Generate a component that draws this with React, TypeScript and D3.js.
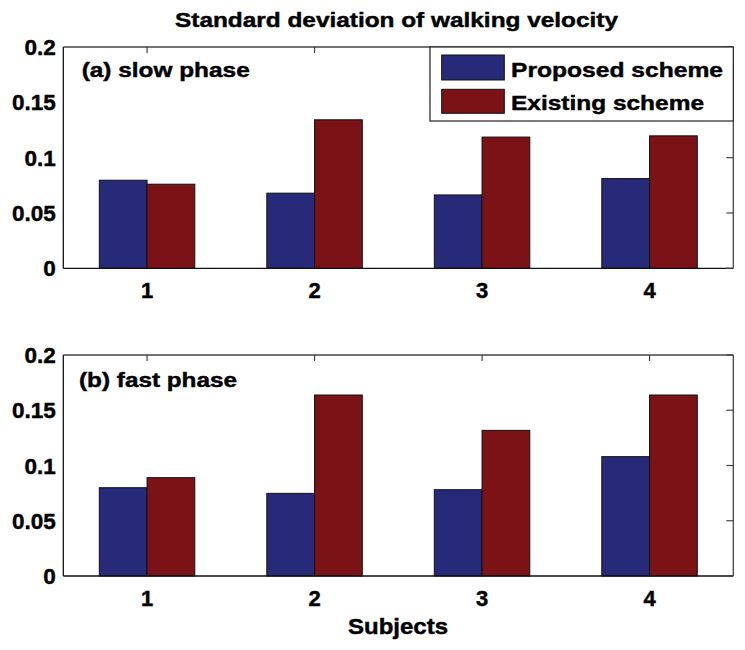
import React from "react";
import * as d3 from "d3";

const subjects = ["1", "2", "3", "4"];
const seriesNames = ["Proposed scheme", "Existing scheme"];
const slowProposed = [0.0796, 0.0679, 0.0663, 0.0811];
const slowExisting = [0.076, 0.1342, 0.1186, 0.1197];
const fastProposed = [0.0799, 0.0748, 0.0781, 0.108];
const fastExisting = [0.089, 0.1638, 0.1318, 0.1638];
const yTicks = [0, 0.05, 0.1, 0.15, 0.2];
const yTickLabels = ["0", "0.05", "0.1", "0.15", "0.2"];
const panelLabels = ["(a) slow phase", "(b) fast phase"];
const title = "Standard deviation of walking velocity";
const xLabel = "Subjects";
const colors = ["#272a78", "#7a1216"];

const FONT = "'Liberation Sans', Arial, Helvetica, sans-serif";
const TS = 0.45; // slight stroke to mimic heavy bold rendering
const left = 63.3;
const right = 733.3;
const panels = [
  { top: 47, bottom: 268.3, data: [slowProposed, slowExisting], labelY: 76.5 },
  { top: 355, bottom: 576, data: [fastProposed, fastExisting], labelY: 387 },
];
const panelLabelWidths = [168, 158];

function Panel({ idx }: { idx: number }) {
  const p = panels[idx];
  const x = d3.scaleLinear().domain([0.5, 4.5]).range([left, right]);
  const y = d3.scaleLinear().domain([0, 0.2]).range([p.bottom, p.top]);
  const barW = 0.285;
  return (
    <g>
      {p.data.map((vals, s) =>
        vals.map((v, i) => {
          const cx = i + 1;
          const x0 = s === 0 ? x(cx - barW) : x(cx);
          const x1 = s === 0 ? x(cx) : x(cx + barW);
          return (
            <rect
              key={`${s}-${i}`}
              x={x0}
              y={y(v)}
              width={x1 - x0}
              height={y(0) - y(v)}
              fill={colors[s]}
              stroke="#111"
              strokeWidth={1}
            />
          );
        })
      )}
      <line x1={left} x2={right} y1={p.top} y2={p.top} stroke="#444" strokeWidth={1.3} />
      <line x1={right} x2={right} y1={p.top} y2={p.bottom} stroke="#444" strokeWidth={1.3} />
      <line x1={left} x2={left} y1={p.top} y2={p.bottom} stroke="#111" strokeWidth={1.3} />
      <line x1={left} x2={right} y1={p.bottom} y2={p.bottom} stroke="#111" strokeWidth={1.3} />
      {subjects.map((s, i) => (
        <line key={s} x1={x(i + 1)} x2={x(i + 1)} y1={p.top} y2={p.top + 6} stroke="#444" strokeWidth={1.2} />
      ))}
      {yTicks.map((t) => (
        <line key={t} x1={right - 7} x2={right} y1={y(t)} y2={y(t)} stroke="#444" strokeWidth={1.2} />
      ))}
      {yTicks.map((t, i) => (
        <text
          key={t}
          x={left - 7.5}
          y={y(t) + 8}
          textAnchor="end"
          fontFamily={FONT}
          fontWeight="bold"
          fontSize={22.5}
          fill="#000"
          stroke="#000"
          strokeWidth={TS}
        >
          {yTickLabels[i]}
        </text>
      ))}
      {subjects.map((s, i) => (
        <text
          key={s}
          x={x(i + 1)}
          y={p.bottom + 30}
          textAnchor="middle"
          fontFamily={FONT}
          fontWeight="bold"
          fontSize={22}
          fill="#000"
          stroke="#000"
          strokeWidth={TS}
        >
          {s}
        </text>
      ))}
      <text
        x={idx === 0 ? 81.7 : 79}
        y={p.labelY}
        fontFamily={FONT}
        fontWeight="bold"
        fontSize={21}
        textLength={panelLabelWidths[idx]}
        lengthAdjust="spacingAndGlyphs"
        fill="#000"
        stroke="#000"
        strokeWidth={TS}
      >
        {panelLabels[idx]}
      </text>
    </g>
  );
}

function Legend() {
  const bx0 = 430;
  const by0 = 47;
  const bx1 = right;
  const by1 = 121;
  const swY = [55, 89.3];
  const swH = [25, 24];
  const textY = [76.7, 110];
  const textW = [212, 193];
  return (
    <g>
      <rect x={bx0} y={by0} width={bx1 - bx0} height={by1 - by0} fill="#fff" stroke="#222" strokeWidth={1.2} />
      {seriesNames.map((name, i) => (
        <g key={name}>
          <rect x={441.7} y={swY[i]} width={62.6} height={swH[i]} fill={colors[i]} stroke="#111" strokeWidth={1} />
          <text
            x={511}
            y={textY[i]}
            fontFamily={FONT}
            fontWeight="bold"
            fontSize={21}
            textLength={textW[i]}
            lengthAdjust="spacingAndGlyphs"
            fill="#000"
            stroke="#000"
            strokeWidth={TS}
          >
            {name}
          </text>
        </g>
      ))}
    </g>
  );
}

export default function App() {
  return (
    <svg
      width={745}
      height={650}
      viewBox="0 0 745 650"
      style={{ position: "absolute", left: 0, top: 0, background: "#fff" }}
    >
      <rect x={0} y={0} width={745} height={650} fill="#fff" />
      <text
        x={396.5}
        y={26.7}
        textAnchor="middle"
        fontFamily={FONT}
        fontWeight="bold"
        fontSize={21}
        textLength={443}
        lengthAdjust="spacingAndGlyphs"
        fill="#000"
        stroke="#000"
        strokeWidth={TS}
      >
        {title}
      </text>
      <Panel idx={0} />
      <Panel idx={1} />
      <Legend />
      <text
        x={398}
        y={633.5}
        textAnchor="middle"
        fontFamily={FONT}
        fontWeight="bold"
        fontSize={21.5}
        textLength={100}
        lengthAdjust="spacingAndGlyphs"
        fill="#000"
        stroke="#000"
        strokeWidth={TS}
      >
        {xLabel}
      </text>
    </svg>
  );
}
